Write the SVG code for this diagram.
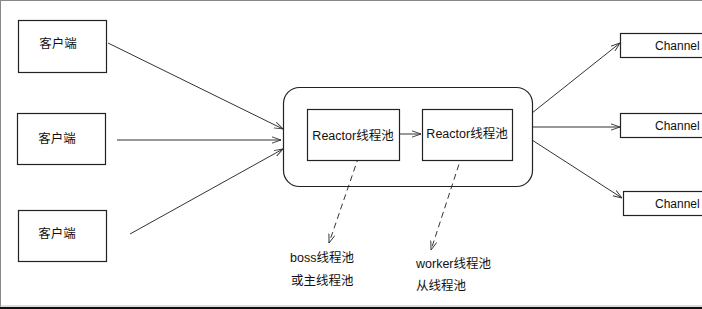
<svg xmlns="http://www.w3.org/2000/svg" width="702" height="309" viewBox="0 0 702 309">
  <style>
    .box { fill: #ffffff; stroke: #222222; stroke-width: 1.2; }
    .lbl { font-family: "Liberation Sans", "Noto Sans CJK SC", sans-serif; font-size: 12.5px; fill: #111111; }
    .ch { font-family: "Liberation Sans", sans-serif; font-size: 12px; fill: #111111; }
    .edge { fill: none; stroke: #333333; stroke-width: 1; }
    .dash { fill: none; stroke: #333333; stroke-width: 1; stroke-dasharray: 6 4; }
  </style>
  <defs>
    <marker id="open" viewBox="0 0 10 10" refX="10" refY="5" markerWidth="9" markerHeight="9" markerUnits="userSpaceOnUse" orient="auto">
      <path d="M0,1.5 L10,5 L0,8.5" fill="none" stroke="#333333" stroke-width="1"/>
    </marker>
  </defs>

  <!-- page frame -->
  <rect x="0" y="0" width="702" height="309" fill="#ffffff"/>
  <line x1="0.5" y1="0.5" x2="702" y2="0.5" stroke="#888888" stroke-width="1"/>
  <line x1="0.5" y1="0" x2="0.5" y2="307" stroke="#888888" stroke-width="1"/>
  <line x1="0" y1="306" x2="702" y2="306" stroke="#bbbbbb" stroke-width="1"/>
  <line x1="0" y1="308" x2="702" y2="308" stroke="#111111" stroke-width="2"/>

  <g id="connectors">
    <line class="edge" x1="108" y1="43" x2="283" y2="129" marker-end="url(#open)"/>
    <line class="edge" x1="117" y1="140" x2="281" y2="140" marker-end="url(#open)"/>
    <line class="edge" x1="130" y1="234" x2="283" y2="149" marker-end="url(#open)"/>
    <line class="edge" x1="399" y1="134" x2="421" y2="134" marker-end="url(#open)"/>
    <line class="edge" x1="532" y1="113" x2="620" y2="43" marker-end="url(#open)"/>
    <line class="edge" x1="532" y1="127" x2="620" y2="127" marker-end="url(#open)"/>
    <line class="edge" x1="532" y1="140" x2="622" y2="198" marker-end="url(#open)"/>
    <line class="dash" x1="362" y1="147" x2="329" y2="243" marker-end="url(#open)"/>
    <line class="dash" x1="462" y1="155" x2="431" y2="250" marker-end="url(#open)"/>
  </g>

  <g id="client1">
    <rect class="box" x="18.5" y="20.5" width="88" height="52"/>
    <text class="lbl" x="58" y="48" text-anchor="middle">客户端</text>
  </g>
  <g id="client2">
    <rect class="box" x="17.5" y="113.5" width="88" height="51"/>
    <text class="lbl" x="57" y="143" text-anchor="middle">客户端</text>
  </g>
  <g id="client3">
    <rect class="box" x="18.5" y="210.5" width="88" height="51"/>
    <text class="lbl" x="57" y="238" text-anchor="middle">客户端</text>
  </g>

  <g id="reactor-group">
    <rect x="283.5" y="87.5" width="249" height="99" rx="16" ry="16" fill="none" stroke="#222222" stroke-width="1.2"/>
  </g>
  <g id="reactor-boss">
    <rect class="box" x="307.5" y="109.5" width="92" height="51"/>
    <text class="lbl" x="353" y="140" text-anchor="middle">Reactor线程池</text>
  </g>
  <g id="reactor-worker">
    <rect class="box" x="422.5" y="109.5" width="90" height="51"/>
    <text class="lbl" x="467" y="138" text-anchor="middle">Reactor线程池</text>
  </g>

  <g id="channel1">
    <rect class="box" x="620.5" y="33.5" width="90" height="24"/>
    <text class="ch" x="655" y="50">Channel</text>
  </g>
  <g id="channel2">
    <rect class="box" x="620.5" y="113.5" width="90" height="24"/>
    <text class="ch" x="655" y="130">Channel</text>
  </g>
  <g id="channel3">
    <rect class="box" x="623.5" y="191.5" width="90" height="24"/>
    <text class="ch" x="655" y="208">Channel</text>
  </g>

  <g id="boss-note">
    <text class="lbl" x="290" y="262">boss线程池</text>
    <text class="lbl" x="291" y="285">或主线程池</text>
  </g>
  <g id="worker-note">
    <text class="lbl" x="416" y="268">worker线程池</text>
    <text class="lbl" x="416" y="290">从线程池</text>
  </g>
</svg>
